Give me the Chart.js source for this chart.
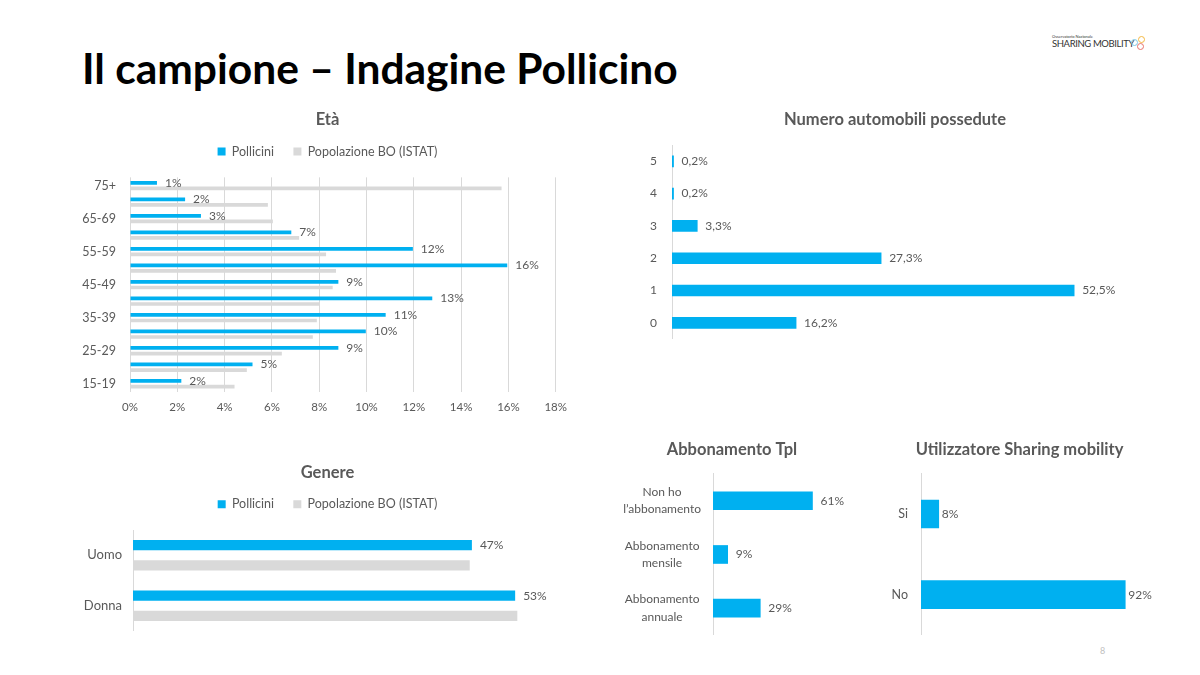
<!DOCTYPE html>
<html>
<head>
<meta charset="utf-8">
<script src="https://cdn.jsdelivr.net/npm/chart.js@4.4.0/dist/chart.umd.min.js"></script>
<style>
  body { margin: 0; background: #fff; font-family: Lato, sans-serif; }
  #slide { position: relative; width: 1200px; height: 675px; overflow: hidden; }
  canvas { position: absolute; }
  h1 { position: absolute; left: 82px; top: 47px; margin: 0; font: bold 42.5px/1 Lato, sans-serif; color: #000; white-space: nowrap; }
  .logo { position: absolute; left: 1052px; top: 34px; color: #333; }
  .logo .small { font-size: 4px; line-height: 5px; }
  .logo .big { font-size: 9.5px; line-height: 10px; letter-spacing: -0.4px; }
  .dot { position: absolute; width: 5px; height: 5px; border-radius: 50%; border: 1.3px solid; }
  .pagenum { position: absolute; left: 1100px; top: 645px; font-size: 9px; color: #bfbfbf; }
</style>
</head>
<body>
<div id="slide">
  <h1>Il campione – Indagine Pollicino</h1>
  <div class="logo">
    <div class="small">Osservatorio Nazionale</div>
    <div class="big">SHARING MOBILITY</div>
  </div>
  <div class="dot" style="left:1131px; top:39px; border-color:#7ec8e3;"></div>
  <div class="dot" style="left:1138px; top:36px; border-color:#f4b942;"></div>
  <div class="dot" style="left:1137px; top:43px; border-color:#e8736c;"></div>
  <div class="pagenum">8</div>

  <canvas id="etaChart" width="495" height="312" style="left:80px; top:105px;"></canvas>
  <canvas id="autoChart" width="510" height="234" style="left:640px; top:105px;"></canvas>
  <canvas id="genereChart" width="495" height="176" style="left:80px; top:455px;"></canvas>
  <canvas id="tplChart" width="264" height="200" style="left:600px; top:435px;"></canvas>
  <canvas id="sharingChart" width="279" height="200" style="left:880px; top:435px;"></canvas>
</div>

<script>
// --- data ---
var etaLabels = ['15-19', '20-24', '25-29', '30-34', '35-39', '40-44', '45-49', '50-54', '55-59', '60-64', '65-69', '70-74', '75+'];
var etaPollicini = [2.17, 5.18, 8.81, 9.97, 10.81, 12.78, 8.81, 15.95, 11.96, 6.82, 3.0, 2.33, 1.14];
var etaIstat = [4.42, 4.94, 6.42, 7.73, 7.9, 8.01, 8.57, 8.71, 8.29, 7.15, 6.04, 5.83, 15.71];
var etaTicks = [0, 2, 4, 6, 8, 10, 12, 14, 16, 18];

var autoLabels = ['0', '1', '2', '3', '4', '5'];
var autoValues = [16.2, 52.5, 27.3, 3.3, 0.2, 0.2];

var genereLabels = ['Uomo', 'Donna'];
var generePollicini = [47, 53];
var genereIstat = [46.7, 53.3];

var tplLabels = [['Non ho', 'l’abbonamento'], ['Abbonamento', 'mensile'], ['Abbonamento', 'annuale']];
var tplValues = [61, 9, 29];

var sharingLabels = ['Si', 'No'];
var sharingValues = [8, 92];

var BLUE = '#00B0F0';
var GREY = '#D9D9D9';
var TEXT = '#595959';

Chart.defaults.font.family = 'Lato, sans-serif';
Chart.defaults.color = TEXT;
Chart.defaults.animation = false;

// value labels at the end of the first dataset's bars
var barLabels = {
  id: 'barLabels',
  afterDatasetsDraw: function(chart, args, opts) {
    if (!opts.show) return;
    var ctx = chart.ctx;
    var meta = chart.getDatasetMeta(0);
    var values = chart.data.datasets[0].data;
    ctx.save();
    ctx.font = opts.size + 'px Lato, sans-serif';
    ctx.fillStyle = TEXT;
    ctx.textAlign = 'left';
    ctx.textBaseline = 'middle';
    meta.data.forEach(function(bar, i) {
      var txt = values[i].toFixed(opts.decimals).replace('.', ',') + '%';
      ctx.fillText(txt, bar.x + opts.offset, bar.y);
    });
    ctx.restore();
  }
};

// extra space under the legend
var legendGap = {
  id: 'legendGap',
  beforeInit: function(chart, args, opts) {
    var legend = chart.legend;
    if (!legend || !opts.gap) return;
    var fit = legend.fit;
    legend.fit = function() { fit.call(legend); legend.height += opts.gap; };
  }
};
Chart.register(barLabels, legendGap);

function chartTitle(text, top, bottom) {
  return {
    display: true, text: text, color: TEXT,
    font: { size: 16.5, weight: 'bold', lineHeight: 0.7 },
    padding: { top: top, bottom: bottom }
  };
}

function legendOpts(pad) {
  return {
    display: true,
    labels: { boxWidth: 8, boxHeight: 8, padding: pad, font: { size: 12.5 }, color: TEXT }
  };
}

// fixed y axis width, no extra label overhang padding
function yWidth(w) {
  return function(s) { s.width = w; s.paddingTop = 0; s.paddingBottom = 0; };
}

// Età
new Chart(document.getElementById('etaChart'), {
  type: 'bar',
  data: {
    labels: etaLabels,
    datasets: [
      { label: 'Pollicini', data: etaPollicini, backgroundColor: BLUE, categoryPercentage: 0.68, barPercentage: 0.66 },
      { label: 'Popolazione BO (ISTAT)', data: etaIstat, backgroundColor: GREY, categoryPercentage: 0.68, barPercentage: 0.66 }
    ]
  },
  options: {
    indexAxis: 'y',
    responsive: false,
    plugins: {
      title: chartTitle('Età', 9.2, 0),
      legend: legendOpts(19.5),
      legendGap: { gap: 9.6 },
      tooltip: { enabled: false },
      barLabels: { show: true, decimals: 0, offset: 8, size: 12 }
    },
    scales: {
      x: {
        min: 0, max: 18.76,
        afterBuildTicks: function(s) { s.ticks = etaTicks.map(function(v) { return { value: v }; }); },
        ticks: { callback: function(v) { return v + '%'; }, font: { size: 11.5 }, padding: 8 },
        grid: { color: GREY, drawTicks: false },
        border: { display: false },
        afterFit: function(s) { s.height = 25; }
      },
      y: {
        reverse: true,
        grid: { display: false, drawTicks: false },
        border: { display: false },
        ticks: {
          autoSkip: false, font: { size: 12.5 }, padding: 14,
          callback: function(v, i) { return i % 2 === 0 ? this.getLabelForValue(v) : ''; }
        },
        afterFit: yWidth(50)
      }
    }
  }
});

// Numero automobili possedute
new Chart(document.getElementById('autoChart'), {
  type: 'bar',
  data: {
    labels: autoLabels,
    datasets: [{ label: 'Automobili', data: autoValues, backgroundColor: BLUE, barThickness: 11 }]
  },
  options: {
    indexAxis: 'y',
    responsive: false,
    plugins: {
      title: chartTitle('Numero automobili possedute', 9.2, 19.4),
      legend: { display: false },
      tooltip: { enabled: false },
      barLabels: { show: true, decimals: 1, offset: 8, size: 12 }
    },
    scales: {
      x: { display: false, min: 0, max: 62.4 },
      y: {
        reverse: true,
        grid: { display: false, drawTicks: false },
        border: { display: true, color: GREY },
        ticks: { font: { size: 12 }, padding: 15 },
        afterFit: yWidth(32)
      }
    }
  }
});

// Genere
new Chart(document.getElementById('genereChart'), {
  type: 'bar',
  data: {
    labels: genereLabels,
    datasets: [
      { label: 'Pollicini', data: generePollicini, backgroundColor: BLUE, categoryPercentage: 0.8, barPercentage: 0.51 },
      { label: 'Popolazione BO (ISTAT)', data: genereIstat, backgroundColor: GREY, categoryPercentage: 0.8, barPercentage: 0.51 }
    ]
  },
  options: {
    indexAxis: 'y',
    responsive: false,
    plugins: {
      title: chartTitle('Genere', 12.2, 0),
      legend: legendOpts(19.3),
      legendGap: { gap: 9.5 },
      tooltip: { enabled: false },
      barLabels: { show: true, decimals: 0, offset: 8, size: 12 }
    },
    scales: {
      x: { display: false, min: 0, max: 61.3 },
      y: {
        grid: { display: false, drawTicks: false },
        border: { display: true, color: GREY },
        ticks: { font: { size: 13 }, padding: 11 },
        afterFit: yWidth(53)
      }
    }
  }
});

// Abbonamento Tpl
new Chart(document.getElementById('tplChart'), {
  type: 'bar',
  data: {
    labels: tplLabels,
    datasets: [{ label: 'Abbonamento Tpl', data: tplValues, backgroundColor: BLUE, barThickness: 18 }]
  },
  options: {
    indexAxis: 'y',
    responsive: false,
    plugins: {
      title: chartTitle('Abbonamento Tpl', 9.2, 18.2),
      legend: { display: false },
      tooltip: { enabled: false },
      barLabels: { show: true, decimals: 0, offset: 8, size: 12 }
    },
    scales: {
      x: { display: false, min: 0, max: 92.6 },
      y: {
        grid: { display: false, drawTicks: false },
        border: { display: true, color: GREY },
        ticks: { font: { size: 12, lineHeight: 1.45 }, padding: 12, crossAlign: 'center' },
        afterFit: yWidth(113)
      }
    }
  }
});

// Utilizzatore Sharing mobility
new Chart(document.getElementById('sharingChart'), {
  type: 'bar',
  data: {
    labels: sharingLabels,
    datasets: [{ label: 'Sharing mobility', data: sharingValues, backgroundColor: BLUE, barThickness: 28 }]
  },
  options: {
    indexAxis: 'y',
    responsive: false,
    plugins: {
      title: chartTitle('Utilizzatore Sharing mobility', 9.2, 17.9),
      legend: { display: false },
      tooltip: { enabled: false },
      barLabels: { show: true, decimals: 0, offset: 3, size: 12 }
    },
    scales: {
      x: { display: false, min: 0, max: 107.2 },
      y: {
        grid: { display: false, drawTicks: false },
        border: { display: true, color: GREY },
        ticks: { font: { size: 12.5 }, padding: 13 },
        afterFit: yWidth(41)
      }
    }
  }
});
</script>
</body>
</html>
